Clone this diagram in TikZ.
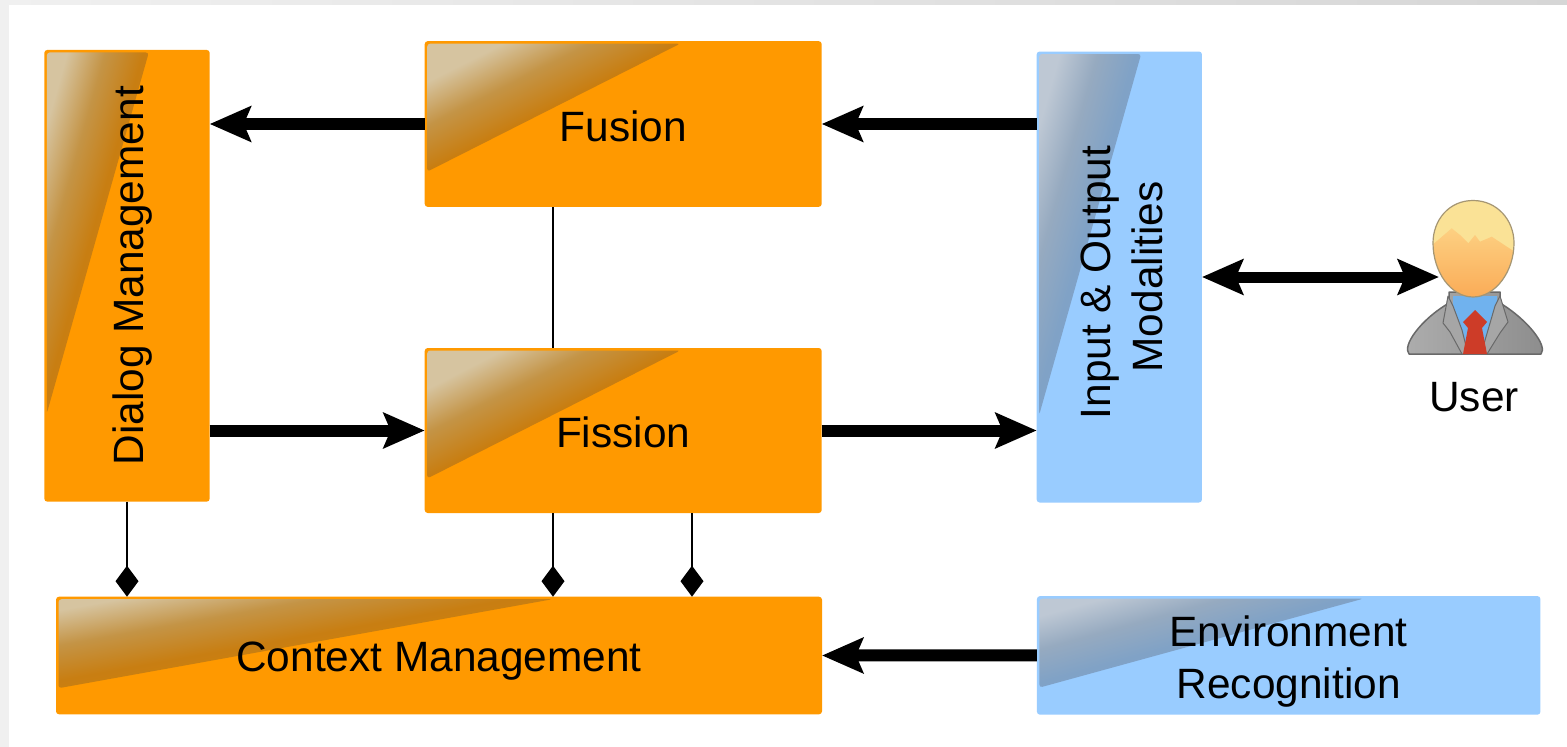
\documentclass[tikz,border=0pt]{standalone}
\usepackage{fontspec}
\setmainfont{Liberation Sans}
\usetikzlibrary{arrows.meta,shapes.geometric}
\definecolor{boxO}{RGB}{255,153,0}
\definecolor{boxB}{RGB}{153,204,255}
\definecolor{glossOa}{RGB}{214,196,160}
\definecolor{glossOm}{RGB}{196,148,70}
\definecolor{glossOb}{RGB}{200,126,18}
\definecolor{glossOc}{RGB}{216,134,8}
\definecolor{glossBa}{RGB}{190,200,212}
\definecolor{glossBm}{RGB}{150,170,192}
\definecolor{glossBb}{RGB}{128,162,198}
\definecolor{glossBc}{RGB}{124,168,212}
\definecolor{pageedge}{RGB}{240,240,240}
\definecolor{pageedgeb}{RGB}{214,214,214}
\definecolor{iconline}{RGB}{105,105,105}
\definecolor{hairc}{RGB}{250,226,150}
\definecolor{faceTop}{RGB}{253,208,130}
\definecolor{faceBot}{RGB}{250,170,85}
\definecolor{headline}{RGB}{165,150,115}
\definecolor{shirtc}{RGB}{112,178,238}
\definecolor{tiec}{RGB}{205,60,40}
\pgfdeclareverticalshading{glossO}{100bp}{color(0bp)=(glossOc); color(42bp)=(glossOc); color(60bp)=(glossOb); color(68bp)=(glossOm); color(76bp)=(glossOa); color(100bp)=(glossOa)}
\pgfdeclareverticalshading{glossB}{100bp}{color(0bp)=(glossBc); color(42bp)=(glossBc); color(60bp)=(glossBb); color(68bp)=(glossBm); color(76bp)=(glossBa); color(100bp)=(glossBa)}
\newcommand{\baselineat}[2]{\raisebox{#1}[0pt][0pt]{#2}}
\tikzset{
  every node/.style={font=\fontsize{42.4}{52}\selectfont,text=black,inner sep=0pt,outer sep=0pt},
  blockbox/.style n args={4}{rectangle,rounded corners=3pt,fill=#1,minimum width=#2,minimum height=#3,#4},
  glossy/.style n args={3}{path picture={
    \pgfmathsetmacro{\glossangle}{atan(#2/#1)}
    \shade[rounded corners=3pt,shading=#3,shading angle=\glossangle]
      ([shift={(2.5pt,-2.5pt)}]path picture bounding box.north west)
      -- ++(#1,0) -- ++(-#1,#2) -- cycle;}},
  oglossy/.style 2 args={glossy={#1}{#2}{glossO}},
  bglossy/.style 2 args={glossy={#1}{#2}{glossB}},
  flow/.style={line width=12pt,-{Stealth[length=41pt,width=35pt,inset=7pt]}},
  flowboth/.style={line width=11pt,{Stealth[length=41pt,width=35pt,inset=7pt]}-{Stealth[length=41pt,width=35pt,inset=7pt]}},
  link/.style={line width=2pt},
  diamondlink/.style={line width=2pt,-{Diamond[length=31pt,width=23pt]}},
}
\begin{document}
\begin{tikzpicture}[x=1pt,y=-1pt]
\useasboundingbox (0,0) rectangle (1567,747);
\fill[pageedge] (0,0) rectangle (1567,747);
\shade[left color=pageedge,right color=pageedgeb] (0,0) rectangle (1567,5);
\fill[white] (9,5) rectangle (1567,747);

\node[blockbox={boxO}{165.4pt}{451.7pt}{oglossy={102}{361}}] (dialog) at (127,275.8) {\rotatebox{90}{\baselineat{-16pt}{Dialog Management}}};
\node[blockbox={boxO}{397pt}{165.7pt}{oglossy={253}{128}}] (fusion) at (623.2,124) {\baselineat{-17.3pt}{Fusion}};
\node[blockbox={boxO}{397pt}{165pt}{oglossy={253}{128}}] (fission) at (623.2,430.5) {\baselineat{-17pt}{Fission}};
\node[blockbox={boxB}{165.3pt}{451pt}{bglossy={102}{361}}] (input) at (1119.3,277) {\rotatebox{90}{\baselineat{9pt}{\begin{tabular}[t]{@{}c@{}}Input \& Output\hspace*{11pt}\\Modalities\end{tabular}}}};
\node[blockbox={boxO}{766pt}{117.6pt}{oglossy={494}{89}}] (context) at (439,655.5) {\baselineat{-16.2pt}{Context Management}};
\node[blockbox={boxB}{503.5pt}{118.6pt}{bglossy={324}{89}}] (env) at (1288.7,655.4) {\baselineat{8.5pt}{\begin{tabular}[t]{@{}c@{}}Environment\\Recognition\end{tabular}}};

% user icon
\shade[draw=iconline,line width=1.5pt,line join=round,left color=black!32,middle color=black!20,right color=black!45]
  (1409,354) .. controls (1402,346) and (1420,320) .. (1449,303) -- (1449,292) -- (1500,292) -- (1500,303)
  .. controls (1528,320) and (1548,346) .. (1541,354) -- cycle;
\fill[shirtc] (1453,296) -- (1497,296) -- (1497,318) -- (1485,354) -- (1465,354) -- (1453,318) -- cycle;
\filldraw[fill=black!35,draw=iconline,line width=1pt,line join=round] (1448,296) -- (1443,323) -- (1450,332) -- (1462,354) -- (1468,354) -- (1462,330) -- (1453,306) -- cycle;
\filldraw[fill=black!35,draw=iconline,line width=1pt,line join=round] (1500,296) -- (1508,322) -- (1500,333) -- (1487,354) -- (1481,354) -- (1488,330) -- (1495,306) -- cycle;
\fill[tiec] (1475,310) -- (1463,322) -- (1468,328) -- (1463,354) -- (1487,354) -- (1482,328) -- (1487,322) -- cycle;
\begin{scope}
\clip (1473,200.5) .. controls (1497,200.5) and (1514,220) .. (1514,243) .. controls (1514,272) and (1495,297) .. (1473,297) .. controls (1451,297) and (1433,272) .. (1433,243) .. controls (1433,220) and (1449,200.5) .. (1473,200.5) -- cycle;
\fill[hairc] (1425,195) rectangle (1520,260);
\shade[top color=faceTop,bottom color=faceBot] (1430,247) -- (1451.7,228.3) -- (1460,235) -- (1468.3,243.3) -- (1475,235) -- (1480,241.7) -- (1491.7,236.7) -- (1518,254) -- (1518,300) -- (1430,300) -- cycle;
\end{scope}
\draw[headline,line width=1.2pt] (1473,200.5) .. controls (1497,200.5) and (1514,220) .. (1514,243) .. controls (1514,272) and (1495,297) .. (1473,297) .. controls (1451,297) and (1433,272) .. (1433,243) .. controls (1433,220) and (1449,200.5) .. (1473,200.5) -- cycle;
\coordinate (userpt) at (1439,277);
\node (userlabel) at (1474,397) {User};

\coordinate (linkA) at (553,0);
\coordinate (linkB) at (692,0);

\draw[flow] (fusion.west) -- (fusion.west -| dialog.east);
\draw[flow] (fusion.east -| input.west) -- (fusion.east);
\draw[flow] (fission.west -| dialog.east) -- (fission.west);
\draw[flow] (fission.east) -- (fission.east -| input.west);
\draw[flow] (env.west) -- (context.east);
\draw[flowboth] (input.east) -- (userpt);
\draw[link] (fusion.south -| linkA) -- (fission.north -| linkA);
\draw[diamondlink] (dialog.south) -- (dialog.south |- context.north);
\draw[diamondlink] (fission.south -| linkA) -- (context.north -| linkA);
\draw[diamondlink] (fission.south -| linkB) -- (context.north -| linkB);
\end{tikzpicture}
\end{document}
